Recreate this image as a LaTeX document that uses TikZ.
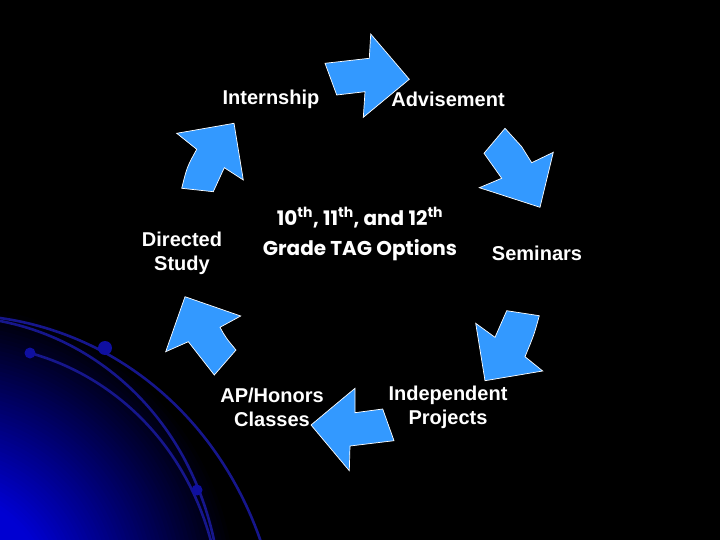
\documentclass[tikz,border=0pt]{standalone}
\usepackage{fontspec}
\setmainfont{Liberation Sans}
\newfontfamily\centerfont[Ligatures=NoCommon]{Poppins}
\definecolor{arrowblue}{RGB}{51,153,255}
\definecolor{glowblue}{RGB}{0,0,210}
\definecolor{arcblue}{RGB}{22,22,140}
\definecolor{dotblue}{RGB}{15,15,160}
\tikzset{
  cyclearrow/.style={fill=arrowblue, draw=white, line width=0.7pt, line join=miter},
  label/.style={text=white, font=\fontsize{20}{24}\selectfont\bfseries, align=center, inner sep=0pt},
  biglabel/.style={text=white, font=\fontsize{20}{30}\selectfont\centerfont\bfseries, align=center, inner sep=0pt},
  arcline/.style={draw=arcblue, line width=2.6pt, line cap=round},
  dotmark/.style={fill=dotblue}
}
\begin{document}
\begin{tikzpicture}[x=1pt,y=-1pt]
\useasboundingbox (0,0) rectangle (720,540);
\fill[black] (0,0) rectangle (720,540);
\begin{scope}
\clip (0,0) rectangle (720,540);
\foreach \r in {300,296,...,4} {
  \pgfmathsetmacro\f{min(100,max(0,(300-\r)/1.9))}
  \fill[glowblue!\f!black] (-60,600) circle (\r);
}
\draw[arcline] (0,318) .. controls (120,335) and (220,420) .. (262,545);
\draw[arcline] (0,321) .. controls (100,340) and (190,420) .. (215,545);
\draw[arcline] (30,353) .. controls (110,375) and (185,440) .. (212,545);
\fill[dotmark] (105,348) circle (7);
\fill[dotmark] (30,353) circle (5.5);
\fill[dotmark] (197,490) circle (5.5);
\end{scope}
% arrows
\draw[cyclearrow] (325,63.3) -- (369.3,58.3) -- (370.7,34) -- (409.3,79.3) -- (363.3,117.3) -- (365,91.7) -- (336.7,95) -- cycle;
\draw[cyclearrow] (505,128.3) .. controls (513,137) .. (521.7,146.7) -- (531.7,162.7) -- (553.3,152.3) -- (540,207.3) -- (479.3,187.7) -- (501.7,178.3) -- (484,153.3) -- cycle;
\draw[cyclearrow] (506.7,310.7) -- (539.3,315.7) .. controls (534,335) .. (525,356.7) -- (542.7,371) -- (485,380.7) -- (475.7,323.3) -- (495,337.3) -- cycle;
\draw[cyclearrow] (355,388.3) -- (355,412.7) -- (382.7,409) -- (394,440.7) -- (350,446) -- (349.3,470.7) -- (311,425) -- cycle;
\draw[cyclearrow] (185,296.7) -- (240.7,316) -- (220,327.3) .. controls (226,338) .. (236,350) -- (214.3,375) -- (188.3,341.7) -- (165.7,351.7) -- cycle;
\draw[cyclearrow] (234,123.3) -- (243.3,180) -- (224.3,167.7) -- (213.3,191.7) -- (181.7,188.3) .. controls (187,167) .. (196.7,149.3) -- (176.7,133.3) -- cycle;
% labels
\node[label] (intern) at (271,99) {Internship};
\node[label] (advise) at (448,99) {Advisement};
\node[label] (semin) at (537,253) {Seminars};
\node[label] (indep) at (448,407) {Independent\\Projects};
\node[label] (aphon) at (272,407) {AP/Honors\\Classes};
\node[label] (direct) at (182,253) {Directed\\Study};
\node[biglabel] (center) at (360,234) {10\textsuperscript{th}, 11\textsuperscript{th}, and 12\textsuperscript{th}\\Grade TAG Options};
\end{tikzpicture}
\end{document}
